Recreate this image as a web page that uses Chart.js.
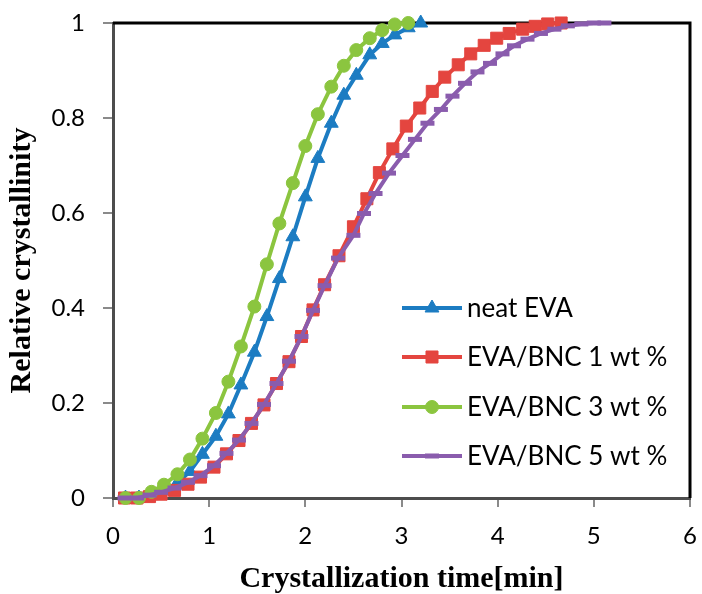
<!DOCTYPE html>
<html lang="en">
<head>
    <title>Relative crystallinity</title>
    <meta charset="utf-8">
    <script src="https://cdn.jsdelivr.net/npm/chart.js"></script>
    <style>
        html, body { margin: 0; padding: 0; background: #fff; }
        #wrap { width: 702px; height: 594px; }
    </style>
</head>
<body>
    <div id="wrap"><canvas id="crystChart" width="702" height="594"></canvas></div>

    <script>
        // time [min] and relative crystallinity
        const neatTime = [0.13, 0.27, 0.40, 0.53, 0.67, 0.80, 0.93, 1.07, 1.20, 1.33, 1.47, 1.60, 1.73, 1.87, 2.00, 2.13, 2.27, 2.40, 2.53, 2.67, 2.80, 2.93, 3.07, 3.20];
        const neatX = [0, 0, 0.005, 0.015, 0.032, 0.056, 0.092, 0.13, 0.177, 0.238, 0.307, 0.382, 0.462, 0.55, 0.634, 0.715, 0.789, 0.848, 0.89, 0.933, 0.957, 0.975, 0.99, 1.0];

        const bnc1Time = [0.12, 0.25, 0.38, 0.50, 0.64, 0.78, 0.91, 1.05, 1.18, 1.31, 1.44, 1.57, 1.70, 1.83, 1.96, 2.08, 2.20, 2.35, 2.50, 2.64, 2.77, 2.91, 3.05, 3.19, 3.32, 3.45, 3.59, 3.72, 3.86, 3.99, 4.12, 4.26, 4.39, 4.52, 4.66];
        const bnc1X = [0, 0, 0.003, 0.008, 0.016, 0.029, 0.044, 0.065, 0.093, 0.121, 0.157, 0.196, 0.241, 0.287, 0.34, 0.396, 0.449, 0.51, 0.571, 0.63, 0.685, 0.735, 0.783, 0.821, 0.856, 0.886, 0.912, 0.935, 0.953, 0.968, 0.978, 0.987, 0.993, 0.998, 1.0];

        const bnc3Time = [0.13, 0.27, 0.40, 0.53, 0.67, 0.80, 0.93, 1.07, 1.20, 1.33, 1.47, 1.60, 1.73, 1.87, 2.00, 2.13, 2.27, 2.40, 2.53, 2.67, 2.80, 2.93, 3.07];
        const bnc3X = [0, 0, 0.013, 0.028, 0.05, 0.081, 0.125, 0.179, 0.245, 0.319, 0.403, 0.492, 0.578, 0.663, 0.741, 0.808, 0.866, 0.91, 0.943, 0.968, 0.985, 0.997, 1.0];

        const bnc5Time = [0.12, 0.25, 0.38, 0.50, 0.64, 0.78, 0.91, 1.05, 1.18, 1.31, 1.44, 1.57, 1.70, 1.83, 1.96, 2.08, 2.20, 2.34, 2.50, 2.61, 2.73, 2.87, 3.01, 3.14, 3.27, 3.41, 3.53, 3.66, 3.79, 3.92, 4.05, 4.17, 4.31, 4.45, 4.59, 4.73, 4.87, 5.00, 5.11];
        const bnc5X = [0, 0, 0.006, 0.012, 0.021, 0.033, 0.047, 0.068, 0.094, 0.122, 0.157, 0.197, 0.241, 0.288, 0.34, 0.395, 0.447, 0.505, 0.553, 0.599, 0.641, 0.684, 0.721, 0.755, 0.789, 0.818, 0.846, 0.873, 0.897, 0.915, 0.935, 0.952, 0.966, 0.978, 0.987, 0.994, 0.998, 1.0, 1.0];

        const seriesNames = ['neat EVA', 'EVA/BNC 1 wt %', 'EVA/BNC 3 wt %', 'EVA/BNC 5 wt %'];
        const xTicks = [0, 1, 2, 3, 4, 5, 6];
        const yTicks = [0, 0.2, 0.4, 0.6, 0.8, 1];

        const toPoints = (xs, ys) => xs.map((x, i) => ({ x: x, y: ys[i] }));

        const colors = {
            blue: '#1C7CC2',
            red: '#E4453F',
            green: '#8BC53F',
            purple: '#8A5CAD'
        };

        // box lines on top/right, drawn under the markers
        const frame = {
            id: 'frame',
            beforeDatasetsDraw(chart) {
                const { ctx, chartArea: a } = chart;
                ctx.save();
                ctx.strokeStyle = '#000';
                ctx.lineWidth = 3;
                ctx.beginPath();
                ctx.moveTo(a.left, a.top);
                ctx.lineTo(a.right, a.top);
                ctx.lineTo(a.right, a.bottom);
                ctx.stroke();
                ctx.restore();
            }
        };

        // legend inside the plot, line + marker like the original
        const insideLegend = {
            id: 'insideLegend',
            afterDraw(chart) {
                const { ctx } = chart;
                const rows = [308, 357, 407, 456];
                ctx.save();
                chart.data.datasets.forEach((ds, i) => {
                    const y = rows[i];
                    ctx.strokeStyle = ds.borderColor;
                    ctx.lineWidth = ds.borderWidth;
                    ctx.beginPath();
                    ctx.moveTo(402, y);
                    ctx.lineTo(462, y);
                    ctx.stroke();
                    ctx.fillStyle = ds.pointBackgroundColor;
                    ctx.strokeStyle = ds.pointBorderColor;
                    ctx.lineWidth = ds.pointBorderWidth;
                    Chart.helpers.drawPoint(ctx, {
                        pointStyle: ds.pointStyle,
                        radius: ds.pointRadius,
                        rotation: 0,
                        borderWidth: ds.pointBorderWidth
                    }, 432, y);
                    ctx.fillStyle = '#000';
                    ctx.font = '26px Lato';
                    ctx.textBaseline = 'middle';
                    ctx.fillText(ds.label, 467, y + 1);
                });
                ctx.restore();
            }
        };

        const ctx = document.getElementById('crystChart').getContext('2d');
        const crystChart = new Chart(ctx, {
            type: 'line',
            data: {
                datasets: [{
                    label: seriesNames[0],
                    data: toPoints(neatTime, neatX),
                    borderColor: colors.blue,
                    pointBackgroundColor: colors.blue,
                    pointBorderColor: colors.blue,
                    pointStyle: 'triangle',
                    pointRadius: 8,
                    pointBorderWidth: 1,
                    borderWidth: 4,
                    order: 3
                }, {
                    label: seriesNames[1],
                    data: toPoints(bnc1Time, bnc1X),
                    borderColor: colors.red,
                    pointBackgroundColor: colors.red,
                    pointBorderColor: colors.red,
                    pointStyle: 'rect',
                    pointRadius: 8.5,
                    pointBorderWidth: 1,
                    borderWidth: 4,
                    order: 2
                }, {
                    label: seriesNames[2],
                    data: toPoints(bnc3Time, bnc3X),
                    borderColor: colors.green,
                    pointBackgroundColor: colors.green,
                    pointBorderColor: colors.green,
                    pointStyle: 'circle',
                    pointRadius: 6.5,
                    pointBorderWidth: 1,
                    borderWidth: 4,
                    order: 1
                }, {
                    label: seriesNames[3],
                    data: toPoints(bnc5Time, bnc5X),
                    borderColor: colors.purple,
                    pointBackgroundColor: colors.purple,
                    pointBorderColor: colors.purple,
                    pointStyle: 'line',
                    pointRadius: 7,
                    pointBorderWidth: 5,
                    borderWidth: 4,
                    order: 0
                }]
            },
            options: {
                responsive: false,
                animation: false,
                devicePixelRatio: 1,
                layout: { padding: { top: 23, right: 0, left: 0, bottom: 0 } },
                elements: { line: { tension: 0 } },
                datasets: { line: { clip: false } },
                scales: {
                    x: {
                        type: 'linear',
                        min: 0,
                        max: 6,
                        afterFit: (scale) => {
                            scale.height = 96;
                            scale.paddingLeft = 0;
                            scale.paddingRight = 0;
                        },
                        afterBuildTicks: (scale) => { scale.ticks = xTicks.map(v => ({ value: v })); },
                        grid: { drawOnChartArea: false, drawTicks: true, tickLength: 9, color: '#8a8a8a', lineWidth: 2 },
                        border: { color: '#4d4d4d', width: 3 },
                        ticks: { color: '#000', padding: 15, font: { family: 'Lato', size: 24 }, callback: (v) => String(v) },
                        title: {
                            display: true,
                            text: 'Crystallization time[min]',
                            color: '#000',
                            padding: { top: 0, bottom: 0 },
                            font: { family: '"Liberation Serif"', size: 30, weight: 'bold', lineHeight: 1 }
                        }
                    },
                    y: {
                        min: 0,
                        max: 1,
                        afterFit: (scale) => {
                            scale.width = 113;
                            scale.paddingTop = 0;
                            scale.paddingBottom = 0;
                        },
                        afterBuildTicks: (scale) => { scale.ticks = yTicks.map(v => ({ value: v })); },
                        grid: { drawOnChartArea: false, drawTicks: true, tickLength: 10, color: '#8a8a8a', lineWidth: 2 },
                        border: { color: '#4d4d4d', width: 3 },
                        ticks: { color: '#000', padding: 18, font: { family: 'Lato', size: 24 }, callback: (v) => String(v) },
                        title: {
                            display: true,
                            text: 'Relative crystallinity',
                            color: '#000',
                            padding: { top: 7, bottom: 0 },
                            font: { family: '"Liberation Serif"', size: 30, weight: 'bold', lineHeight: 1 }
                        }
                    }
                },
                plugins: {
                    legend: { display: false },
                    tooltip: { enabled: false }
                }
            },
            plugins: [frame, insideLegend]
        });
    </script>
</body>
</html>
